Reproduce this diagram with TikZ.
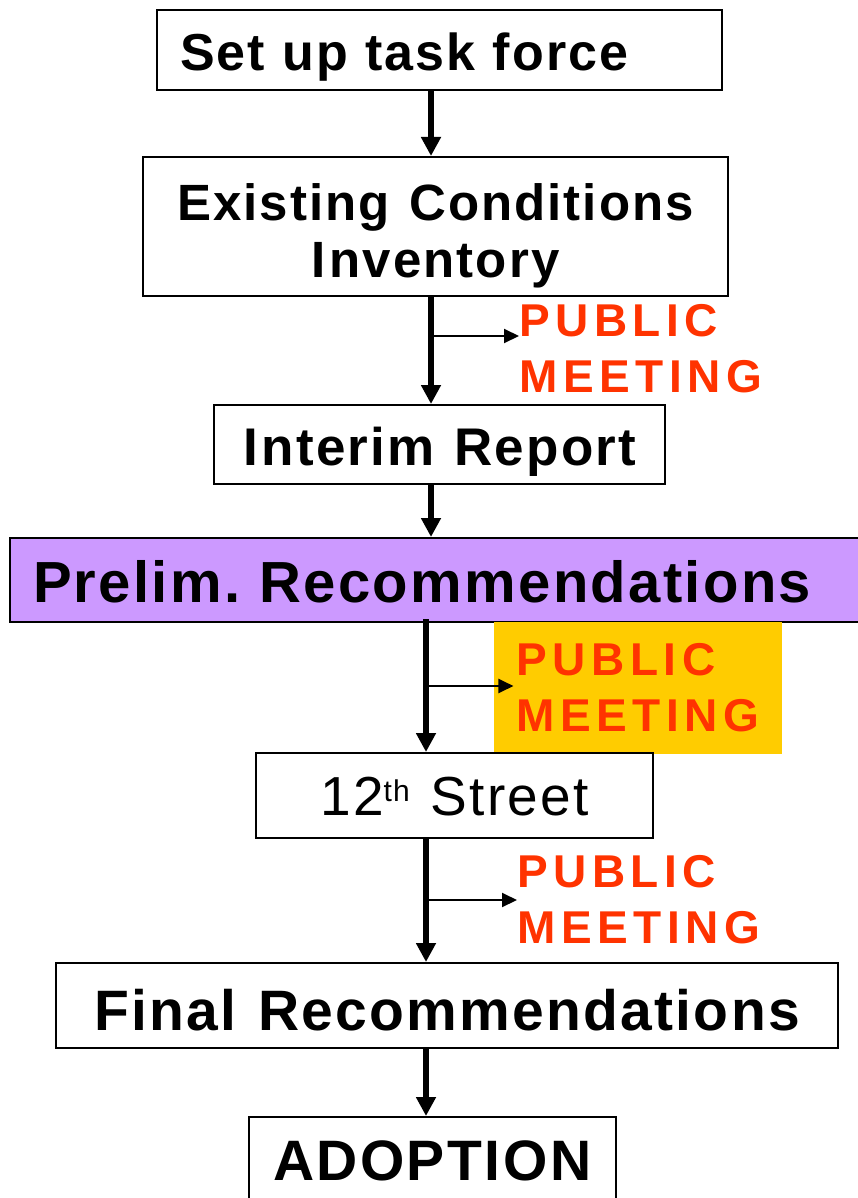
\documentclass[tikz,border=0pt]{standalone}
\usepackage{fontspec}
\setmainfont{Liberation Sans}[LetterSpace=4,WordSpace=1.2]
\newfontfamily\meetfont{Liberation Sans}[LetterSpace=12]
\usepackage{xcolor}
\usetikzlibrary{arrows.meta}
\definecolor{meetred}{HTML}{FF3300}
\definecolor{prelimfill}{HTML}{CC99FF}
\definecolor{meetfill}{HTML}{FFCC00}
\newcommand\gapI{I\kern4pt\relax}
\frenchspacing
\tikzset{
  box/.style={draw=black,line width=2pt,inner sep=0pt,text depth=0pt,
    font=\bfseries\fontsize{52}{57}\selectfont},
  bigbox/.style={box,font=\bfseries\fontsize{57}{60}\selectfont},
  flow/.style={line width=5.5pt,-{Triangle[length=19pt,width=19pt]}},
  branch/.style={line width=2pt,-{Triangle[length=15pt,width=14pt]}},
  meet/.style={text=meetred,align=left,inner sep=0pt,
    font=\meetfont\bfseries\fontsize{46}{56}\selectfont},
}

\begin{document}
\begin{tikzpicture}[x=1pt,y=-1pt]
  \useasboundingbox (0,0) rectangle (858,1198);

  \node[box,minimum height=80pt,text height=42pt,text width=519pt,inner xsep=23pt,align=left]
    (task) at (439.5,50) {Set up task force};
  \node[box,text depth=,font=\bfseries\fontsize{51}{57}\selectfont,
    minimum width=585pt,minimum height=139pt,align=center]
    (cond) at (435.5,226.5) {\rule{0pt}{55pt}Existing Conditions\\\gapI nventory};
  \node[box,font=\bfseries\fontsize{53}{57}\selectfont,
    minimum width=451pt,minimum height=79pt,text height=41pt]
    (interim) at (439.5,444.5) {\gapI nterim Report};
  \node[bigbox,font=\bfseries\fontsize{58}{60}\selectfont,fill=prelimfill,
    minimum height=84pt,text height=44pt,text width=804pt,inner xsep=23pt,align=left]
    (prelim) at (435,580) {Prelim. Recommendations};
  \node[meet,anchor=north west] (meetA) at (519,304) {PUBLIC\\MEETING};
  \node[meet,fill=meetfill,inner xsep=23pt,minimum height=132pt]
    (meetB) at (638,688) {PUBLIC\\MEETING};
  \node[box,font=\fontsize{55}{57}\selectfont,minimum width=397pt,
    minimum height=85pt,text height=39pt]
    (street) at (454.5,795.5) {12\raisebox{14pt}{\fontsize{30}{30}\selectfont th} Street};
  \node[meet,anchor=north west] (meetC) at (517,855) {PUBLIC\\MEETING};
  \node[bigbox,minimum width=782pt,minimum height=85pt,text height=49pt]
    (final) at (447,1005.5) {Final Recommendations};
  \node[bigbox,minimum width=367pt,minimum height=90pt,text height=36pt]
    (adopt) at (432.5,1162) {ADOPT\gapI ON};

  \coordinate (spineA) at (431,0);
  \coordinate (spineB) at (426,0);
  \draw[flow] (task.south -| spineA) -- (cond.north -| spineA);
  \draw[flow] (cond.south -| spineA) -- (interim.north -| spineA);
  \draw[flow] (interim.south -| spineA) -- (prelim.north -| spineA);
  \draw[flow] ([yshift=4pt]prelim.south -| spineB) -- (street.north -| spineB);
  \draw[flow] (street.south -| spineB) -- (final.north -| spineB);
  \draw[flow] (final.south -| spineB) -- (adopt.north -| spineB);

  \coordinate (brA) at (431,336);
  \coordinate (brB) at (426,686);
  \coordinate (brC) at (426,900);
  \draw[branch] (brA) -- (brA -| meetA.west);
  \draw[branch] (brB) -- ([xshift=20pt]brB -| meetB.west);
  \draw[branch] (brC) -- (brC -| meetC.west);
\end{tikzpicture}
\end{document}
